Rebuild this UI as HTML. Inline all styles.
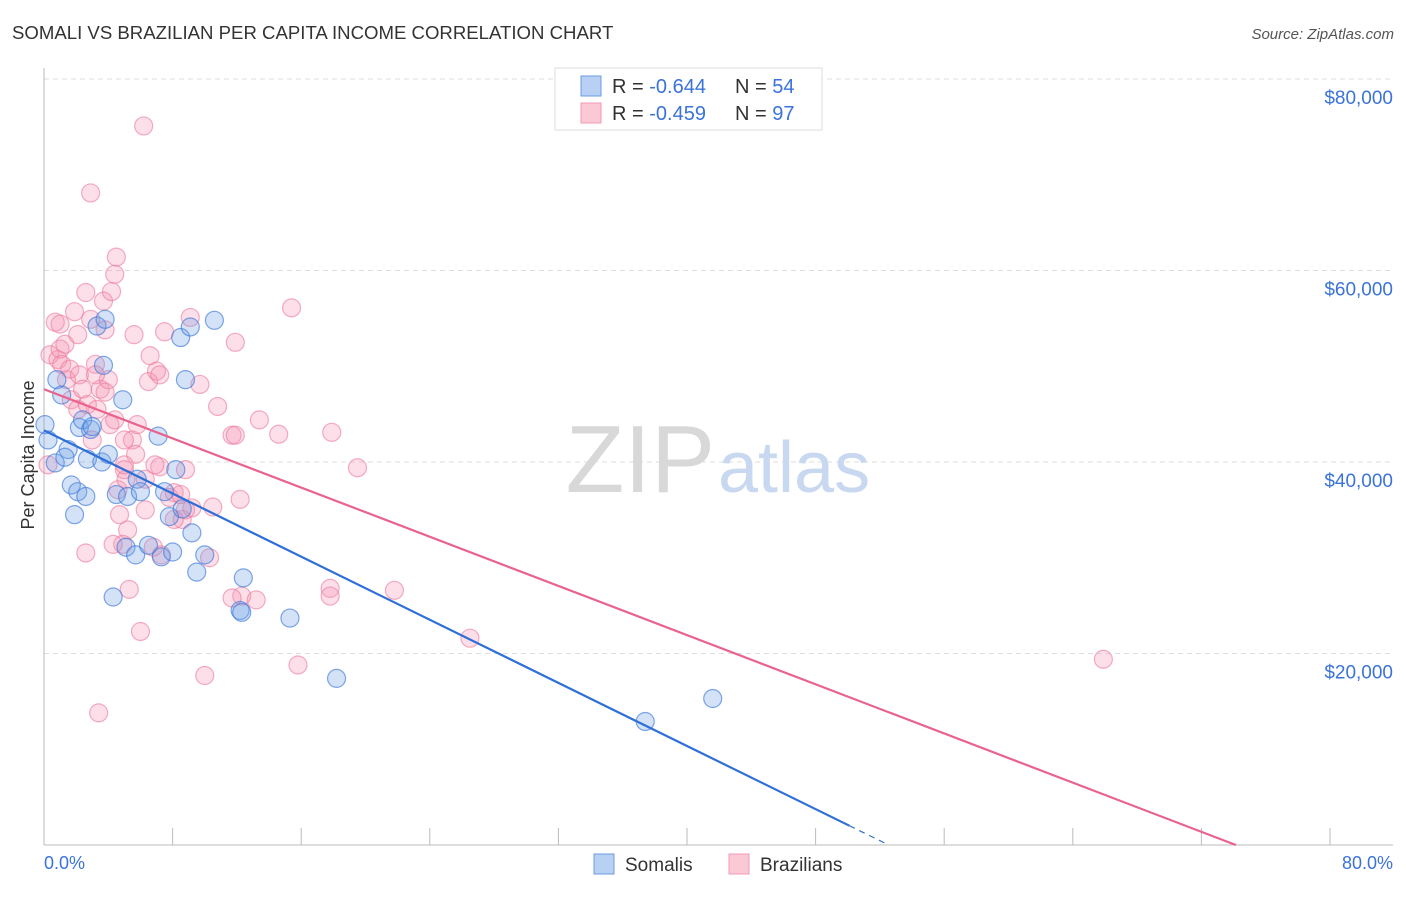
<!DOCTYPE html>
<html><head><meta charset="utf-8"><style>
body{margin:0;background:#fff;font-family:"Liberation Sans",sans-serif}
svg text{font-family:"Liberation Sans",sans-serif}
</style></head><body>
<svg id="chart" width="1406" height="892">
<text x="12" y="39" font-size="18.6" fill="#333">SOMALI VS BRAZILIAN PER CAPITA INCOME CORRELATION CHART</text>
<text x="1394" y="39" font-size="15" fill="#555" text-anchor="end" font-style="italic">Source: ZipAtlas.com</text>
<g id="grid"></g>
<text x="715" y="492" font-size="96" fill="#d8d8d8" text-anchor="end" font-family="Liberation Serif">ZIP</text>
<text x="718" y="492" font-size="72" fill="#c8d8f0">atlas</text>
<g id="marks"></g>
<text transform="translate(34,455) rotate(-90)" font-size="18" fill="#333" text-anchor="middle">Per Capita Income</text>
<text x="44" y="869" font-size="18" fill="#3b73d9">0.0%</text>
<text x="1393" y="869" font-size="18" fill="#3b73d9" text-anchor="end">80.0%</text>
<g>
<rect x="555" y="68" width="267" height="62" fill="#fff" stroke="#ddd"/>
<rect x="581" y="76" width="20" height="20" fill="#b8d0f4" stroke="#6a9be0"/>
<rect x="581" y="103" width="20" height="20" fill="#fbc8d6" stroke="#f09ab4"/>
<text x="612" y="93" font-size="20" fill="#333">R = <tspan fill="#3b73d9">-0.644</tspan></text>
<text x="735" y="93" font-size="20" fill="#333">N = <tspan fill="#3b73d9">54</tspan></text>
<text x="612" y="120" font-size="20" fill="#333">R = <tspan fill="#3b73d9">-0.459</tspan></text>
<text x="735" y="120" font-size="20" fill="#333">N = <tspan fill="#3b73d9">97</tspan></text>
</g>
<g>
<rect x="594" y="854" width="20" height="20" fill="#b8d0f4" stroke="#6a9be0"/>
<text x="625" y="871" font-size="19" fill="#333">Somalis</text>
<rect x="729" y="854" width="20" height="20" fill="#fbc8d6" stroke="#f09ab4"/>
<text x="760" y="871" font-size="19" fill="#333">Brazilians</text>
</g>
</svg>
<script>
const yTicks=[20000,40000,60000,80000];
const yTickLabels=["$20,000","$40,000","$60,000","$80,000"];
const xTicks=[0,8,16,24,32,40,48,56,64,72,80];
const somaliX=[0.06,0.25,0.7,0.8,1.1,1.5,1.3,1.7,1.9,2.1,2.2,2.4,2.6,2.9,2.7,3.0,3.3,3.6,3.7,3.8,4.0,4.3,4.5,4.9,5.1,5.2,5.7,5.8,6.0,6.5,7.1,7.3,7.5,7.8,8.0,8.2,8.5,8.6,8.8,9.1,9.2,9.5,10.0,10.6,12.2,12.4,12.3,15.3,18.2,37.4,41.6];
const somaliY=[43900,42300,39900,48600,47000,41300,40500,37600,34500,36900,43600,44400,36400,43400,40300,43700,54200,40000,50100,54900,40800,25900,36600,46500,31100,36400,30300,38200,36900,31300,42700,30100,36900,34300,30600,39200,53000,35100,48600,54100,32600,28500,30300,54800,24500,27900,24300,23700,17400,12900,15300];
const brazX=[0.25,0.37,0.7,0.87,1.0,1.1,1.3,1.4,1.6,1.7,1.9,2.1,2.2,2.4,2.6,2.7,2.9,3.0,3.2,3.3,3.5,3.7,3.8,4.0,4.1,4.2,4.4,4.5,4.6,4.7,4.9,5.0,5.1,5.2,5.3,5.5,5.6,5.8,6.0,6.2,6.3,6.5,6.6,6.8,7.0,7.2,7.3,7.5,7.8,8.1,8.5,8.6,8.8,9.1,9.2,9.7,10.0,10.3,10.5,10.8,11.7,11.9,11.9,12.2,12.3,13.2,13.4,14.6,15.4,15.8,17.8,17.9,19.5,21.8,26.5,65.9,2.9,3.4,2.6,1.0,2.1,3.2,3.8,4.4,5.0,5.7,6.3,6.9,7.2,8.1,8.8,11.7,17.8,5.0,4.3];
const brazY=[39700,51200,54600,50700,51800,50200,52300,48600,49700,46500,55700,45500,49100,47600,57700,46000,54900,42300,50200,45500,47600,56800,53800,48600,43900,57800,59600,61400,37100,34500,31400,39200,38200,32900,26700,42300,53300,43900,22300,75100,35000,48400,51100,31100,49500,39500,30300,53600,36300,36800,36600,34000,39200,55100,35200,48100,17700,30000,35300,45800,42800,42800,52500,36100,26000,25600,44400,42900,56100,18800,26800,43100,39400,26600,21600,19400,68100,13800,30500,54400,53300,49100,47300,44400,42300,40800,38200,39700,49100,34000,35000,25800,26000,39700,31400];
const somaliTrend=[43300,-824];   // intercept, slope per %
const somaliSolidEnd=50.1;       // % where solid part ends
const brazTrend=[47600,-642];
const X0=44,X1=1330,Y0=845,YTOP=79;
const sx=v=>X0+v/80*(X1-X0);
const sy=v=>Y0-v/80000*(Y0-YTOP);
const NS="http://www.w3.org/2000/svg";
function mk(tag,attrs,parent){const e=document.createElementNS(NS,tag);for(const k in attrs)e.setAttribute(k,attrs[k]);parent.appendChild(e);return e;}
const grid=document.getElementById('grid'),marks=document.getElementById('marks');
yTicks.forEach((t,i)=>{
 const l=mk('line',{x1:X0,x2:1393,y1:sy(t),y2:sy(t),stroke:'#ddd','stroke-dasharray':'5,4'},grid);
 
 
 const tx=mk('text',{x:1393,y:sy(t)+25,'font-size':19,fill:'#3b73d9','text-anchor':'end'},grid);
 tx.textContent=yTickLabels[i];
 
 
});
const la=mk('line',{x1:X0,x2:X0,y1:68,y2:Y0,stroke:'#bbb'},grid);


const lb=mk('line',{x1:X0,x2:1393,y1:Y0,y2:Y0,stroke:'#bbb'},grid);


xTicks.forEach(t=>{
 const l=mk('line',{x1:sx(t),x2:sx(t),y1:Y0,y2:Y0-17,stroke:'#bbb'},grid);
 
 
});
brazX.forEach((x,i)=>{
 const c=mk('circle',{cx:sx(x),cy:sy(brazY[i]),r:9,fill:'rgba(244,150,178,0.3)',stroke:'rgba(236,120,155,0.6)','stroke-width':1.2},marks);
 
 
});
somaliX.forEach((x,i)=>{
 const c=mk('circle',{cx:sx(x),cy:sy(somaliY[i]),r:9,fill:'rgba(110,160,230,0.3)',stroke:'rgba(60,120,220,0.65)','stroke-width':1.2},marks);
 
 
});
function seg(tr,xa,xb,color,name,dash){
 const a={x1:sx(xa),y1:sy(tr[0]+tr[1]*xa),x2:sx(xb),y2:sy(tr[0]+tr[1]*xb),stroke:color,'stroke-width':2.2};
 if(dash){a['stroke-dasharray']=dash;a['stroke-width']=1.2;}
 const l=mk('line',a,marks);
 
 
}
const sz=-somaliTrend[0]/somaliTrend[1];
seg(somaliTrend,0,Math.min(somaliSolidEnd,sz),'#2f6fd8','somali-trend-line');
seg(somaliTrend,Math.min(somaliSolidEnd,sz),sz,'#2f6fd8','somali-trend-extension','6,5');
const bz=Math.min(-brazTrend[0]/brazTrend[1],80);
seg(brazTrend,0,bz,'#e8638e','brazilian-trend-line');
</script>
</body></html>
